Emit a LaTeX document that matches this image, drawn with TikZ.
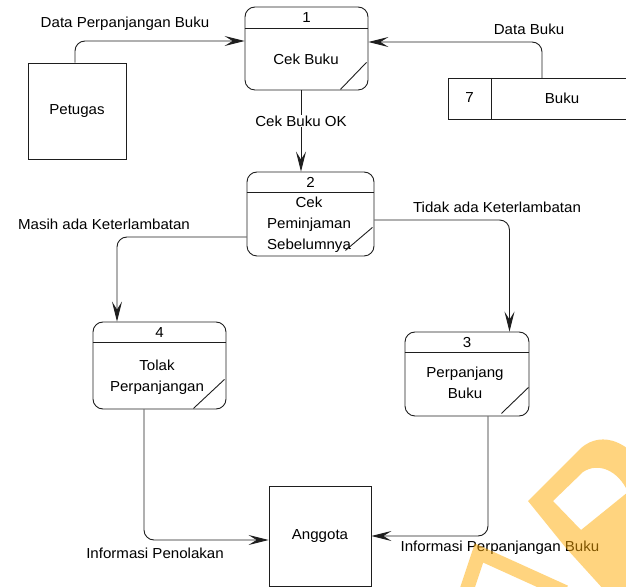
\documentclass[tikz,border=0pt]{standalone}
\usepackage{fontspec}
\setmainfont{Liberation Sans}[FakeStretch=1.04]
\usetikzlibrary{arrows.meta,calc}
\definecolor{wm}{RGB}{255,170,0}
\definecolor{ln}{RGB}{30,30,30}
\begin{document}
\begin{tikzpicture}[x=1pt,y=1pt,
  every node/.style={font=\fontsize{14.5}{21}\selectfont, text=black},
  proc/.style={draw=ln, line width=0.9pt, rounded corners=10pt, rectangle, inner sep=0pt},
  ent/.style={draw=ln, line width=0.9pt, rectangle, inner sep=0pt},
  flow/.style={draw=ln, line width=0.9pt, rounded corners=10pt, -{Stealth[length=20pt,width=10pt,inset=8pt]}},
  sep/.style={draw=ln, line width=0.9pt},
  lbl/.style={inner sep=1pt, align=center}]
\useasboundingbox (0,0) rectangle (626,586);

% external entities
\node[ent, minimum width=98pt, minimum height=96pt] (pet) at (77,475) {Petugas};
\node[ent, minimum width=102pt, minimum height=100pt] (ang) at (320,50) {Anggota};

% processes
\node[proc, minimum width=123pt, minimum height=83pt] (p1) at (306.5,537.5) {};
\node[proc, minimum width=127pt, minimum height=84pt] (p2) at (310.5,372) {};
\node[proc, minimum width=133pt, minimum height=87pt] (p4) at (159.5,220.5) {};
\node[proc, minimum width=124pt, minimum height=84pt] (p3) at (467,212) {};

\draw[sep] ($(p1.north west)+(0,-22)$) -- ($(p1.north east)+(0,-22)$);
\draw[sep] ($(p1.south east)+(-28,1)$) -- ($(p1.south east)+(-2,28)$);
\draw[sep] ($(p2.north west)+(0,-21)$) -- ($(p2.north east)+(0,-21)$);
\draw[sep] ($(p2.south east)+(-29,6)$) -- ($(p2.south east)+(-2,29)$);
\draw[sep] ($(p4.north west)+(0,-21)$) -- ($(p4.north east)+(0,-21)$);
\draw[sep] ($(p4.south east)+(-33,1)$) -- ($(p4.south east)+(-2,30)$);
\draw[sep] ($(p3.north west)+(0,-21)$) -- ($(p3.north east)+(0,-21)$);
\draw[sep] ($(p3.south east)+(-28,3)$) -- ($(p3.south east)+(-1,29)$);

\node (p1n) at ($(p1.north)+(0,-11)$) {1};
\node (p1t) at (306,527) {Cek Buku};
\node (p2n) at ($(p2.north)+(0,-10.5)$) {2};
\node[align=center] (p2t) at (309,361) {Cek\\Peminjaman\\Sebelumnya};
\node (p4n) at ($(p4.north)+(0,-10.5)$) {4};
\node[align=center] (p4t) at (157,208.5) {Tolak\\Perpanjangan};
\node (p3n) at ($(p3.north)+(0,-10.5)$) {3};
\node[align=center] (p3t) at (465,203.5) {Perpanjang\\Buku};

% data store
\draw[sep] (626,508) -- (448,508) -- (448,467) -- (626,467);
\draw[sep] (491,508) -- (491,467);
\node (dsn) at (469.5,488) {7};
\node (ds) at (562,488) {Buku};
\coordinate (dstop) at (542,508);

% flows
\draw[flow] ([xshift=-2pt]pet.north) |- ($(p1.west)+(0,7.5)$);
\node[lbl] (l1) at (125,562) {Data Perpanjangan Buku};
\draw[flow] (dstop) |- ($(p1.east)+(0,6.5)$);
\node[lbl] (l2) at (529,557) {Data Buku};
\draw[flow] ($(p1.south)+(-5.5,0)$) -- ($(p2.north)+(-9.5,0)$);
\node[lbl, fill=white] (l3) at (301,465) {Cek Buku OK};
\draw[flow] ($(p2.west)+(0,-23)$) -| ($(p4.north)+(-42.5,0)$);
\node[lbl] (l4) at (104,362) {Masih ada Keterlambatan};
\draw[flow] ($(p2.east)+(0,-6)$) -| ($(p3.north)+(42.5,0)$);
\node[lbl] (l5) at (497,379) {Tidak ada Keterlambatan};
\draw[flow] ($(p4.south)+(-15.5,0)$) |- ($(ang.west)+(0,-4)$);
\node[lbl] (l6) at (155,33) {Informasi Penolakan};
\draw[flow] ($(p3.south)+(21,0)$) |- (ang.east);
\node[lbl] (l7) at (500,38) {Informasi Perpanjangan Buku};

% watermark
\fill[wm, opacity=0.5, even odd rule] (528,85) -- (581,138) .. controls (603,157) and (632,142) .. (645,116) -- (645,-5) -- (605,-5) -- (566,38) -- cycle
  (553,85) -- (583,114) .. controls (598,124) and (618,116) .. (628,94) -- (581,56) -- cycle;
\draw[wm, opacity=0.5, line width=14pt, line join=miter] (466,-6) -- (479,33) -- (565,-6);
\end{tikzpicture}
\end{document}
